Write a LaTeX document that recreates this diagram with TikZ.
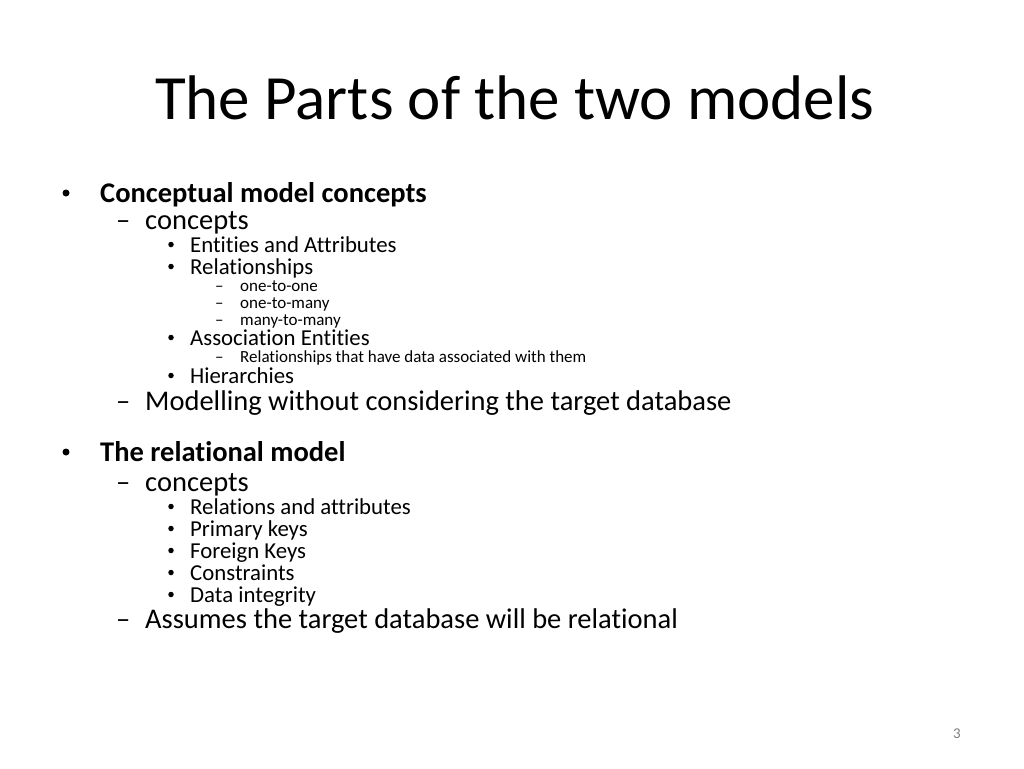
\documentclass[tikz,border=0pt]{standalone}
\usepackage{fontspec}
\setmainfont[Ligatures={NoCommon}]{Carlito}
\tikzset{
 title/.style={anchor=base west,inner sep=0pt,font=\fontsize{63}{70}\selectfont},
 lvlone/.style={anchor=base west,inner sep=0pt,font=\fontsize{28.5}{32}\selectfont},
 lvltwo/.style={anchor=base west,inner sep=0pt,font=\fontsize{28.5}{32}\selectfont},
 lvlthree/.style={anchor=base west,inner sep=0pt,font=\fontsize{22.8}{26}\selectfont},
 lvlfour/.style={anchor=base west,inner sep=0pt,font=\fontsize{17}{20}\selectfont},
 bul/.style={circle,fill=black,inner sep=0pt,minimum size=#1}
}
\begin{document}
\begin{tikzpicture}[x=1pt,y=-1pt]
 \useasboundingbox[fill=white] (0,0) rectangle (1024,768);
 \node[title] (ttl) at (155,119) {The Parts of the two models};

 % conceptual model
 \node[bul=7pt] (b1) at (66,193) {};
 \node[lvlone] (cm) at (100,202) {\textbf{Conceptual model concepts}};
 \node[lvltwo] (d1) at (116,229) {–};
 \node[lvltwo] (cc) at (145,229) {concepts};
 \foreach \y/\t in {252/Entities and Attributes,274/Relationships,345/Association Entities,383/Hierarchies}
 {
  \node[bul=5.5pt] at (171,\y-7.5) {};
  \node[lvlthree] at (190,\y) {\t};
 }
 \foreach \y/\t in {291/one-to-one,308/one-to-many,325/many-to-many,362/Relationships that have data associated with them}
 {
  \node[lvlfour] at (215,\y) {–};
  \node[lvlfour] at (240,\y) {\t};
 }
 \node[lvltwo] (d2) at (116,410) {–};
 \node[lvltwo] (mw) at (145,410) {Modelling without considering the target database};

 % relational model
 \node[bul=7pt] (b2) at (66,452) {};
 \node[lvlone] (rm) at (100,461) {\textbf{The relational model}};
 \node[lvltwo] (d3) at (116,491) {–};
 \node[lvltwo] (rc) at (145,491) {concepts};
 \foreach \y/\t in {514/Relations and attributes,536/Primary keys,558/Foreign Keys,580/Constraints,602/Data integrity}
 {
  \node[bul=5.5pt] at (171,\y-7.5) {};
  \node[lvlthree] at (190,\y) {\t};
 }
 \node[lvltwo] (d4) at (116,628) {–};
 \node[lvltwo] (as) at (145,628) {Assumes the target database will be relational};

 \node[anchor=base,inner sep=0pt,text=gray,font=\fontsize{15}{17}\selectfont] (pg) at (957,738) {3};
\end{tikzpicture}
\end{document}
